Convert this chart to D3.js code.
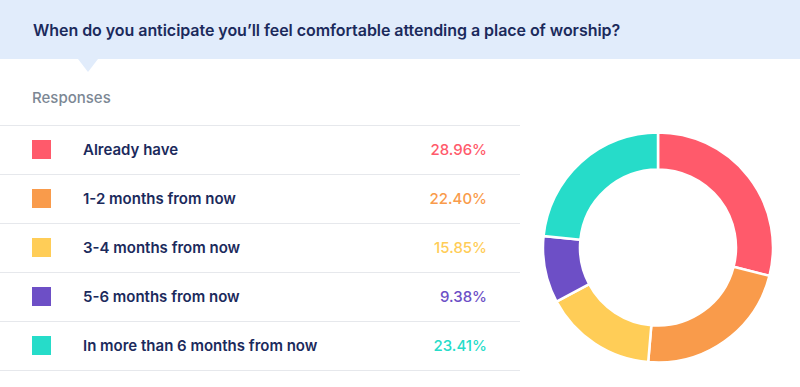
<!DOCTYPE html>
<html>
<head>
<meta charset="utf-8">
<script src="https://cdn.jsdelivr.net/npm/d3@7"></script>
<style>
  body { margin: 0; background: #fff; }
  svg { display: block; font-family: Inter, "Noto Sans", sans-serif; }
</style>
</head>
<body>
<svg id="chart"></svg>
<script>
const title = 'When do you anticipate you\u2019ll feel comfortable attending a place of worship?';
const categories = ['Already have', '1-2 months from now', '3-4 months from now', '5-6 months from now', 'In more than 6 months from now'];
const values = [28.96, 22.40, 15.85, 9.38, 23.41];
const colors = ['#ff5a6b', '#f99b4b', '#ffcd57', '#6d4fc6', '#26dcc9'];

const width = 800, height = 387;
const svg = d3.select('#chart')
    .attr('width', width)
    .attr('height', height);

// header band with pointer
svg.append('rect')
    .attr('x', 0).attr('y', 0)
    .attr('width', width).attr('height', 59)
    .attr('fill', '#e1ecfb');
svg.append('path')
    .attr('d', 'M78,59 L98,59 L88,72 Z')
    .attr('fill', '#e1ecfb');
svg.append('text')
    .attr('x', 33).attr('y', 36)
    .attr('font-size', 16)
    .attr('font-weight', 600)
    .attr('letter-spacing', -0.05)
    .attr('fill', '#1b2a5c')
    .text(title);

svg.append('text')
    .attr('x', 32).attr('y', 103)
    .attr('font-size', 15)
    .attr('font-weight', 500)
    .attr('fill', '#7c8794')
    .text('Responses');

// legend table
const y = d3.scaleBand()
    .domain(categories)
    .range([125, 370]);

const rows = svg.append('g').selectAll('g')
    .data(categories)
    .join('g')
    .attr('transform', d => `translate(0, ${y(d)})`);

svg.append('g').selectAll('line')
    .data(d3.range(categories.length + 1))
    .join('line')
    .attr('x1', 0).attr('x2', 520)
    .attr('y1', i => 125 + i * y.step() + 0.5)
    .attr('y2', i => 125 + i * y.step() + 0.5)
    .attr('stroke', '#e6e8ec')
    .attr('stroke-width', 1.2);

rows.append('rect')
    .attr('x', 32).attr('y', 15)
    .attr('width', 19).attr('height', 19)
    .attr('fill', (d, i) => colors[i]);

rows.append('text')
    .attr('x', 83).attr('y', y.bandwidth() / 2 + 5.5)
    .attr('font-size', 15)
    .attr('font-weight', 600)
    .attr('fill', '#1b2a5c')
    .text(d => d);

rows.append('text')
    .attr('x', 487).attr('y', y.bandwidth() / 2 + 5.5)
    .attr('text-anchor', 'end')
    .attr('font-size', 15)
    .attr('font-weight', 500)
    .attr('fill', (d, i) => colors[i])
    .text((d, i) => values[i].toFixed(2) + '%');

// donut
const pie = d3.pie().sort(null).value(d => d);
const arc = d3.arc().innerRadius(78).outerRadius(115);

svg.append('g')
    .attr('transform', 'translate(658, 247.5)')
    .selectAll('path')
    .data(pie(values))
    .join('path')
    .attr('d', arc)
    .attr('fill', (d, i) => colors[i])
    .attr('stroke', '#fff')
    .attr('stroke-width', 2.5);
</script>
</body>
</html>
